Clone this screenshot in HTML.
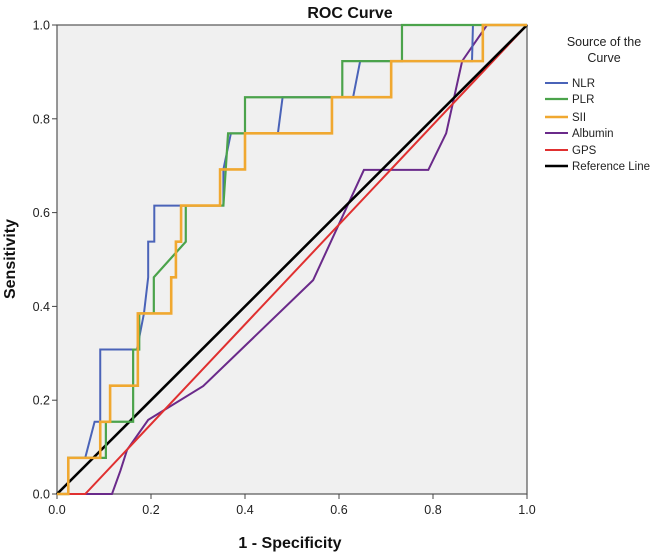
<!DOCTYPE html>
<html><head><meta charset="utf-8"><style>
body{margin:0;background:#fff;font-family:"Liberation Sans",Arial,sans-serif}
svg{display:block}
</style></head><body>
<svg id="c" width="665" height="553"></svg>
<script>
const seriesNames=["NLR","PLR","SII","Albumin","GPS","Reference Line"];
const nlrX=[0,0.024,0.024,0.06,0.08,0.092,0.092,0.17,0.185,0.194,0.194,0.207,0.207,0.354,0.354,0.37,0.47,0.48,0.63,0.645,0.883,0.885,1];
const nlrY=[0,0,0.077,0.077,0.154,0.154,0.308,0.308,0.385,0.462,0.538,0.538,0.615,0.615,0.692,0.769,0.769,0.846,0.846,0.923,0.923,1,1];
const plrX=[0,0.024,0.024,0.104,0.104,0.162,0.162,0.175,0.175,0.206,0.206,0.274,0.274,0.354,0.364,0.40,0.40,0.607,0.607,0.734,0.734,1];
const plrY=[0,0,0.077,0.077,0.154,0.154,0.308,0.308,0.385,0.385,0.462,0.538,0.615,0.615,0.769,0.769,0.846,0.846,0.923,0.923,1,1];
const siiX=[0,0.024,0.024,0.092,0.092,0.113,0.113,0.172,0.172,0.243,0.243,0.253,0.253,0.264,0.264,0.347,0.347,0.40,0.40,0.585,0.585,0.711,0.711,0.906,0.906,1];
const siiY=[0,0,0.077,0.077,0.154,0.154,0.231,0.231,0.385,0.385,0.462,0.462,0.538,0.538,0.615,0.615,0.692,0.692,0.769,0.769,0.846,0.846,0.923,0.923,1,1];
const albX=[0,0.117,0.135,0.149,0.194,0.311,0.545,0.653,0.79,0.828,0.862,0.915,1];
const albY=[0,0,0.05,0.094,0.158,0.23,0.456,0.691,0.691,0.769,0.923,1,1];
const gpsX=[0,0.06,1];
const gpsY=[0,0,1];
const refX=[0,1];
const refY=[0,1];
const ticks=["0.0","0.2","0.4","0.6","0.8","1.0"];
const tickVals=[0,0.2,0.4,0.6,0.8,1];

const NS="http://www.w3.org/2000/svg";
const svg=document.getElementById('c');
const L=57,R=527,T=25,B=494;
const sx=v=>L+v*(R-L), sy=v=>B-v*(B-T);
function mk(t,a,p){const e=document.createElementNS(NS,t);for(const k in a)e.setAttribute(k,a[k]);(p||svg).appendChild(e);return e;}
const bg=mk('rect',{x:L,y:T,width:R-L,height:B-T,fill:'#f0f0f0',stroke:'#555','stroke-width':1.2});


tickVals.forEach((v,i)=>{
  const tx=mk('line',{x1:sx(v),x2:sx(v),y1:B,y2:B+5,stroke:'#444'});
  
  
  const lx=mk('text',{x:sx(v),y:B+20,'text-anchor':'middle','font-size':12.5,fill:'#222'});lx.textContent=ticks[i];
  
  
  const ty=mk('line',{x1:L-5,x2:L,y1:sy(v),y2:sy(v),stroke:'#444'});
  
  
  const ly=mk('text',{x:L-7,y:sy(v)+4.5,'text-anchor':'end','font-size':12.5,fill:'#222'});ly.textContent=ticks[i];
  
  
});
const series=[[nlrX,nlrY,'#4a63b8',2,'nlr-line'],[plrX,plrY,'#4ba34b',2.2,'plr-line'],[siiX,siiY,'#f0a830',2.6,'sii-line'],[albX,albY,'#6a2a8a',2,'albumin-line'],[gpsX,gpsY,'#e03030',2,'gps-line'],[refX,refY,'#000',2.6,'reference-line']];
const order=[3,4,5,0,1,2];
order.forEach(i=>{const s=series[i];
  const p=mk('polyline',{points:s[0].map((x,j)=>sx(x)+','+sy(s[1][j])).join(' '),fill:'none',stroke:s[2],'stroke-width':s[3],'stroke-linejoin':'miter'});
  
  
});
const lg=mk('g',{});


const t1=mk('text',{x:604,y:46,'text-anchor':'middle','font-size':12.5,fill:'#222'},lg);t1.textContent='Source of the';
const t2=mk('text',{x:604,y:62,'text-anchor':'middle','font-size':12.5,fill:'#222'},lg);t2.textContent='Curve';
const ly=[83,99,117,133,150,166];
series.forEach((s,i)=>{
  const e=mk('g',{},lg);
  
  
  mk('line',{x1:545,x2:568,y1:ly[i],y2:ly[i],stroke:s[2],'stroke-width':s[3]},e);
  const t=mk('text',{x:572,y:ly[i]+4,'font-size':11.5,fill:'#222'},e);t.textContent=seriesNames[i];
});
const title=mk('text',{x:350,y:18,'text-anchor':'middle','font-size':16,'font-weight':'bold',fill:'#111'});title.textContent='ROC Curve';


const xt=mk('text',{x:290,y:548,'text-anchor':'middle','font-size':16,'font-weight':'bold',fill:'#111'});xt.textContent='1 - Specificity';


const yt=mk('text',{x:15,y:259,'text-anchor':'middle','font-size':16,'font-weight':'bold',fill:'#111',transform:'rotate(-90 15 259)'});yt.textContent='Sensitivity';


</script>
</body></html>
